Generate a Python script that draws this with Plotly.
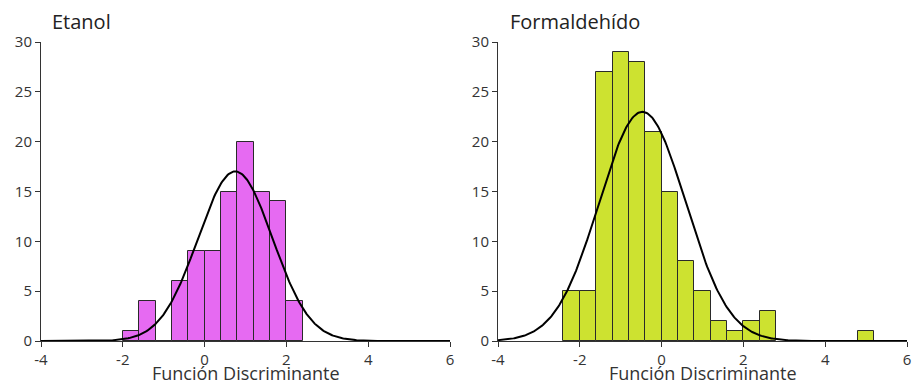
import numpy as np
import plotly.graph_objects as go
from plotly.subplots import make_subplots

# Histogram bins (left edges) and counts for each group
bin_width = 0.4
etanol_edges = [-2.0, -1.6, -1.2, -0.8, -0.4, 0.0, 0.4, 0.8, 1.2, 1.6, 2.0]
etanol_counts = [1, 4, 0, 6, 9, 9, 15, 20, 15, 14, 4]

formal_edges = [-2.4, -2.0, -1.6, -1.2, -0.8, -0.4, 0.0, 0.4, 0.8, 1.2, 1.6, 2.0, 2.4, 4.8]
formal_counts = [5, 5, 27, 29, 28, 21, 15, 8, 5, 2, 1, 2, 3, 1]

# Fitted normal parameters (mean, sd)
etanol_fit = (0.75, 0.91)
formal_fit = (-0.47, 1.055)

titles = ["Etanol", "Formaldehído"]
x_title = "Función Discriminante"
colors = ["#E66AF2", "#CDE230"]
x_ticks = [-4, -2, 0, 2, 4, 6]
y_ticks = [0, 5, 10, 15, 20, 25, 30]

W, H = 912, 384
ML, MR, MT, MB = 41, 5, 42, 43
plot_w = W - ML - MR
plot_h = H - MT - MB

fig = make_subplots(rows=1, cols=2, horizontal_spacing=48 / plot_w)

groups = [
    (etanol_edges, etanol_counts, etanol_fit),
    (formal_edges, formal_counts, formal_fit),
]

xs = np.linspace(-4, 6, 400)
for i, (edges, counts, (mu, sd)) in enumerate(groups):
    col = i + 1
    centers = [e + bin_width / 2 for e in edges]
    fig.add_trace(
        go.Bar(
            x=centers, y=counts, width=bin_width,
            marker=dict(color=colors[i], line=dict(color="#2a2a2a", width=1)),
            showlegend=False, hoverinfo="skip",
        ),
        row=1, col=col,
    )
    n = sum(counts)
    dens = n * bin_width * np.exp(-0.5 * ((xs - mu) / sd) ** 2) / (sd * np.sqrt(2 * np.pi))
    fig.add_trace(
        go.Scatter(x=xs, y=dens, mode="lines", line=dict(color="black", width=2),
                   showlegend=False, hoverinfo="skip"),
        row=1, col=col,
    )

FONT = "Open Sans, Noto Sans, sans-serif"
axis_font = dict(family=FONT, size=15, color="#333333")
for col in (1, 2):
    fig.update_xaxes(
        range=[-4, 6], tickvals=x_ticks, ticktext=[str(t) for t in x_ticks],
        showgrid=False, zeroline=False, showline=True, linecolor="#333333", linewidth=1,
        ticks="outside", ticklen=5, tickcolor="#333333", tickfont=axis_font,
        automargin=False,
        row=1, col=col,
    )
    fig.update_yaxes(
        range=[0, 30], tickvals=y_ticks,
        showgrid=False, zeroline=False, showline=True, linecolor="#333333", linewidth=1,
        ticks="outside", ticklen=5, tickcolor="#333333", tickfont=axis_font,
        automargin=False,
        row=1, col=col,
    )

annotations = []
# panel titles, left-aligned above each plot
for title, px in zip(titles, (50, 508)):
    annotations.append(dict(
        text=title, xref="paper", yref="paper",
        x=(px - ML) / plot_w, y=1 + (MT - 21) / plot_h,
        xanchor="left", yanchor="middle", showarrow=False,
        font=dict(family=FONT, size=20, color="#222222"),
    ))
# x-axis titles, centred under each plot
for dom in (fig.layout.xaxis.domain, fig.layout.xaxis2.domain):
    annotations.append(dict(
        text=x_title, xref="paper", yref="paper",
        x=(dom[0] + dom[1]) / 2, y=-(373 - (H - MB)) / plot_h,
        xanchor="center", yanchor="middle", showarrow=False, borderpad=0,
        font=dict(family=FONT, size=18, color="#333333"),
    ))

fig.update_layout(
    width=W, height=H,
    margin=dict(l=ML, r=MR, t=MT, b=MB, autoexpand=False),
    plot_bgcolor="white", paper_bgcolor="white",
    bargap=0,
    annotations=annotations,
)

fig.write_html("out.html")
